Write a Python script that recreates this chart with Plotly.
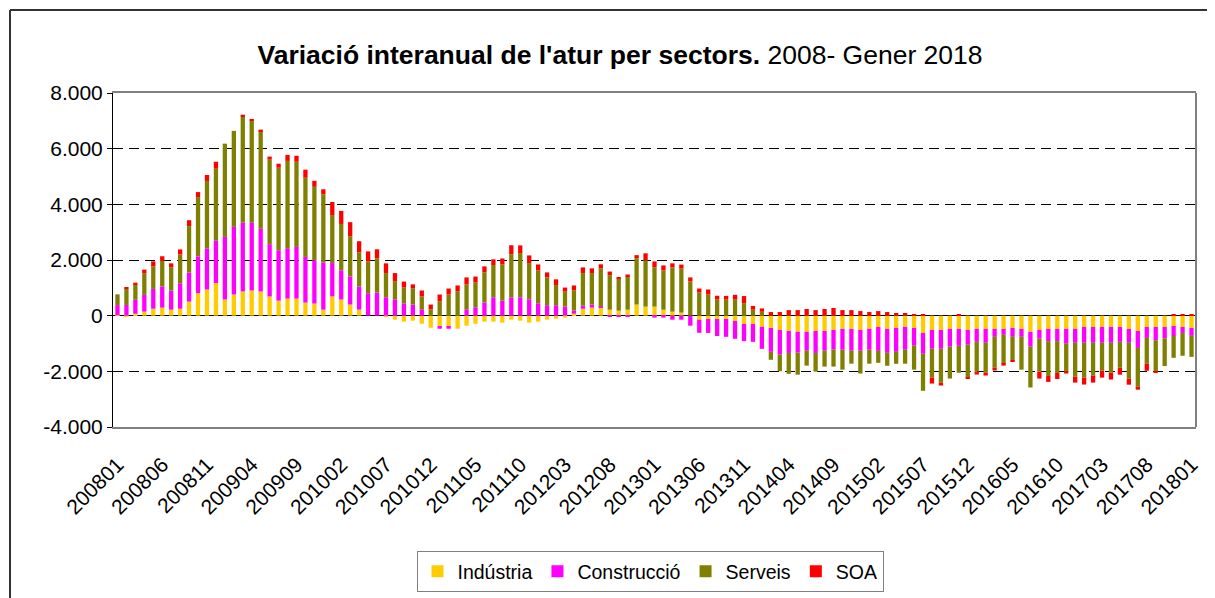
import plotly.graph_objects as go

# Categories: monthly, 200801 .. 201801
months = [f"{y}{m:02d}" for y in range(2008, 2018) for m in range(1, 13)] + ["201801"]
tick_labels = months[::5]

industria = [20, -35, 70, 145, 250, 290, 215, 250, 505, 805, 940, 1170,
             580, 760, 870, 905, 870, 690, 540, 615, 615, 470, 435, 215,
             690, 580, 400, 215, 0, 0, -35, -145, -215, -180, -290, -435,
             -400, -400, -470, -360, -290, -215, -215, -250, -145, -180, -250, -215,
             -145, -110, -70, 70, 250, 290, 290, 215, 180, 215, 400, 325,
             325, 215, 145, 110, 0, -145, -120, -120, -120, -190, -300, -300,
             -400, -440, -510, -550, -580, -580, -550, -550, -510, -475, -475, -510,
             -475, -405, -475, -440, -405, -440, -620, -510, -510, -475, -475, -510,
             -475, -475, -475, -475, -440, -475, -580, -510, -475, -475, -475, -475,
             -405, -405, -405, -405, -405, -475, -550, -405, -405, -405, -370, -405,
             -440]
construccio = [360, 385, 500, 600, 710, 760, 690, 915, 1050, 1325, 1480, 1520,
               2250, 2430, 2470, 2430, 2250, 1880, 1810, 1810, 1855, 1640, 1555, 1700,
               1200, 1050, 1010, 830, 805, 830, 660, 590, 445, 400, 230, 0,
               -70, -70, 0, 230, 300, 470, 660, 540, 660, 660, 590, 445,
               375, 375, 325, 110, 110, 110, 35, -20, -35, -35, 0, 0,
               -70, -70, -145, -145, -360, -470, -500, -610, -640, -640, -615, -640,
               -790, -860, -890, -790, -750, -680, -790, -710, -710, -750, -785, -750,
               -750, -860, -860, -860, -820, -640, -750, -680, -680, -640, -610, -535,
               -465, -500, -285, -215, -320, -285, -535, -320, -440, -440, -535, -500,
               -570, -570, -570, -570, -535, -500, -610, -395, -475, -405, -360, -215,
               -285]
serveis = [385, 580, 530, 780, 810, 915, 830, 1035, 1660, 2130, 2420, 2590,
           3350, 3450, 3810, 3675, 3495, 3035, 2965, 3135, 3060, 2845, 2640, 2445,
           1725, 1665, 1445, 1230, 1145, 1230, 870, 650, 565, 580, 460, 230,
           520, 760, 880, 890, 890, 1085, 1160, 1300, 1545, 1590, 1300, 1180,
           1000, 725, 540, 725, 1170, 1130, 1375, 1240, 1160, 1195, 1665, 1665,
           1410, 1410, 1590, 1580, 1230, 830, 760, 580, 575, 575, 450, 215,
           140, -285, -595, -750, -790, -535, -670, -570, -610, -715, -465, -820,
           -500, -430, -465, -430, -500, -860, -1330, -1035, -1215, -1145, -965, -1180,
           -1070, -1070, -1105, -1035, -855, -1180, -1465, -1180, -1250, -1145, -1000, -1215,
           -1250, -1180, -1000, -1070, -930, -1290, -1395, -930, -1110, -1000, -785, -820,
           -755]
soa = [0, 50, 85, 130, 180, 170, 145, 180, 215, 180, 215, 250,
       0, 0, 70, 35, 70, 110, 145, 215, 215, 290, 215, 180,
       470, 470, 505, 400, 360, 325, 350, 290, 215, 145, 215, 170,
       240, 215, 205, 255, 215, 215, 205, 215, 325, 275, 275, 215,
       180, 205, 145, 180, 205, 170, 145, 130, 35, 70, 110, 250,
       215, 180, 145, 145, 145, 145, 180, 135, 135, 175, 255, 135,
       120, 130, 130, 200, 200, 240, 200, 240, 275, 200, 200, 165,
       130, 165, 130, 95, 95, 25, 25, -215, -105, 0, 25, -35,
       -105, -105, -105, -70, -35, 0, 0, -250, -215, -215, -70, -215,
       -250, -250, -250, -250, -250, -215, -105, -250, -70, 0, 60, 60,
       60]

series = [("Indústria", industria, "#FFCC00"),
          ("Construcció", construccio, "#FF00FF"),
          ("Serveis", serveis, "#808000"),
          ("SOA", soa, "#FF0000")]

y_ticks = [-4000, -2000, 0, 2000, 4000, 6000, 8000]
y_ticktext = ["-4.000", "-2.000", "0", "2.000", "4.000", "6.000", "8.000"]

FONT = "Liberation Sans, Arial, sans-serif"

# page body has an 8px margin: figure is laid out in page coords minus 8
W, H = 1207, 590
L, T = 105, 85
PW, PH = 1083, 334

fig = go.Figure()
for name, vals, col in series:
    fig.add_trace(go.Bar(x=months, y=vals, name=name,
                         marker=dict(color=col, line=dict(width=0))))

fig.update_layout(
    width=W, height=H, autosize=False,
    margin=dict(l=L, r=W - L - PW, t=T, b=H - T - PH, pad=0, autoexpand=False),
    paper_bgcolor="white", plot_bgcolor="white",
    barmode="relative", bargap=0.52,
    font=dict(family=FONT, size=20, color="black"),
    title=dict(text="<b>Variació interanual de l'atur per sectors.</b> 2008- Gener 2018",
               x=612 / W, xref="container", xanchor="center",
               y=1 - 47 / H, yref="container", yanchor="middle",
               font=dict(family=FONT, size=26.5, color="black")),
    legend=dict(orientation="h", xref="container", yref="container",
                x=642 / W, xanchor="center",
                y=1 - 543 / H, yanchor="top",
                bordercolor="#808080", borderwidth=1, font=dict(size=19.5),
                itemwidth=30, itemclick=False, traceorder="normal"),
    xaxis=dict(type="category", categoryorder="array", categoryarray=months,
               range=[-0.5, len(months) - 0.5], automargin=False,
               tickmode="array", tickvals=tick_labels, ticktext=tick_labels,
               tickangle=-45, ticks="", showgrid=False, zeroline=False,
               showline=True, linecolor="#808080", linewidth=2, mirror=True,
               ticklabelstandoff=15, tickfont=dict(size=21)),
    xaxis2=dict(overlaying="x", anchor="free", position=1 / 3, type="linear",
                range=[-0.5, len(months) - 0.5], tickmode="linear", tick0=-0.5, dtick=1,
                ticks="outside", ticklen=4, tickcolor="black", tickwidth=1, automargin=False,
                showticklabels=False, showgrid=False, zeroline=False, showline=False),
    yaxis=dict(range=[-4000, 8000], tickmode="array", tickvals=y_ticks, ticktext=y_ticktext,
               ticks="outside", ticklen=5, tickcolor="black", automargin=False,
               showline=True, linecolor="black", linewidth=1,
               showgrid=True, gridcolor="black", gridwidth=1, griddash="10px,6px",
               zeroline=True, zerolinecolor="black", zerolinewidth=1,
               tickfont=dict(size=21)),
)

# right border of plot area (gray)
fig.add_shape(type="line", xref="paper", yref="paper", x0=1, x1=1, y0=0, y1=1,
              line=dict(color="#808080", width=2))
# outer chart frame
fx = (2 - L) / PW
fy = (T + PH - 2) / PH
fig.add_shape(type="line", xref="paper", yref="paper", x0=fx, x1=1.1, y0=fy, y1=fy,
              line=dict(color="#333333", width=2))
fig.add_shape(type="line", xref="paper", yref="paper", x0=fx, x1=fx, y0=fy, y1=-0.7,
              line=dict(color="#333333", width=2))

fig.write_html("out.html")
